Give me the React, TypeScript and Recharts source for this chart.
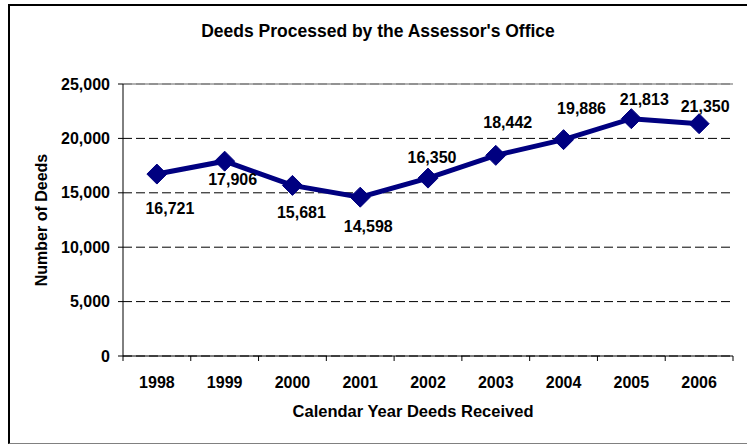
import React from "react";
import {
  LineChart,
  Line,
  XAxis,
  YAxis,
  CartesianGrid,
  ReferenceLine,
  LabelList,
} from "recharts";

const years = ["1998", "1999", "2000", "2001", "2002", "2003", "2004", "2005", "2006"];
const deeds = [16721, 17906, 15681, 14598, 16350, 18442, 19886, 21813, 21350];
const yTicks = [0, 5000, 10000, 15000, 20000, 25000];

// label placement relative to each point (layout only)
const labelDx = [13, 8, 9, 8, 4, 12, 18, 13, 6];
const labelDy = [34, 18, 27, 29, -21, -33, -32, -20, -18];

const data = years.map((year, i) => ({ year, deeds: deeds[i] }));

const W = 747;
const H = 445;
const M = { top: 84, right: 14, bottom: 59, left: 43 };
const Y_AXIS_W = 80;
const X_AXIS_H = 30;
const PLOT_W = W - M.left - M.right - Y_AXIS_W;
const PLOT_BOTTOM = H - M.bottom - X_AXIS_H;
const STEP = PLOT_W / years.length;
const NAVY = "#000080";
const FONT = "'Liberation Sans', Arial, sans-serif";
const FS = 16;

const fmt = (v: number) => v.toLocaleString("en-US");

function YearTick(props: any) {
  const { x, payload, index } = props;
  const last = index === years.length - 1;
  return (
    <g>
      <line x1={x - STEP / 2} x2={x - STEP / 2} y1={PLOT_BOTTOM} y2={PLOT_BOTTOM + 5} stroke="#000" />
      {last && (
        <line x1={x + STEP / 2} x2={x + STEP / 2} y1={PLOT_BOTTOM} y2={PLOT_BOTTOM + 5} stroke="#000" />
      )}
      <text
        x={x}
        y={PLOT_BOTTOM + 32}
        textAnchor="middle"
        fontFamily={FONT}
        fontWeight="bold"
        fontSize={FS}
        fill="#000"
      >
        {payload.value}
      </text>
    </g>
  );
}

function Diamond(props: any) {
  const { cx, cy } = props;
  if (cx == null || cy == null) return null;
  const r = 10;
  return (
    <polygon
      points={`${cx},${cy - r} ${cx + r},${cy} ${cx},${cy + r} ${cx - r},${cy}`}
      fill={NAVY}
      stroke={NAVY}
    />
  );
}

function ValueLabel(props: any) {
  const { x, y, value, index } = props;
  return (
    <text
      x={x + labelDx[index]}
      y={y + labelDy[index]}
      dy={6}
      textAnchor="middle"
      fontFamily={FONT}
      fontWeight="bold"
      fontSize={FS}
      fill="#000"
    >
      {fmt(value)}
    </text>
  );
}

export default function App() {
  return (
    <div style={{ position: "absolute", left: 0, top: 0, width: W, height: H, fontFamily: FONT, background: "#fff", overflow: "hidden" }}>
      <div
        style={{
          position: "absolute",
          left: 8,
          top: 4,
          width: W,
          height: 437,
          borderTop: "2px solid #000",
          borderLeft: "2px solid #000",
          borderBottom: "1px solid #808080",
        }}
      />
      <LineChart width={W} height={H} data={data} margin={M} style={{ position: "absolute", left: 0, top: 0 }}>
        <CartesianGrid vertical={false} stroke="#000" strokeDasharray="9 4" />
        <ReferenceLine y={25000} stroke="#999" strokeWidth={1.5} />
        <XAxis
          dataKey="year"
          height={X_AXIS_H}
          padding={{ left: STEP / 2, right: STEP / 2 }}
          tickLine={false}
          axisLine={{ stroke: "#000" }}
          tick={<YearTick />}
          interval={0}
        />
        <YAxis
          width={Y_AXIS_W}
          domain={[0, 25000]}
          ticks={yTicks}
          tickFormatter={fmt}
          tickSize={5}
          tickMargin={8}
          axisLine={{ stroke: "#000" }}
          tickLine={{ stroke: "#000" }}
          tick={{ fill: "#000", fontFamily: FONT, fontWeight: "bold", fontSize: FS }}
        />
        <YAxis
          yAxisId="r"
          orientation="right"
          width={0}
          domain={[0, 25000]}
          tick={false}
          tickLine={false}
          axisLine={{ stroke: "#999", strokeWidth: 2 }}
        />
        <Line
          dataKey="deeds"
          stroke={NAVY}
          strokeWidth={5}
          dot={<Diamond />}
          activeDot={false}
          isAnimationActive={false}
        >
          <LabelList dataKey="deeds" content={<ValueLabel />} />
        </Line>
      </LineChart>
      <div style={{ position: "absolute", left: 378, top: 31, transform: "translate(-50%, -50%)", whiteSpace: "nowrap", fontWeight: "bold", fontSize: 17.5 }}>
        Deeds Processed by the Assessor's Office
      </div>
      <div style={{ position: "absolute", left: 413, top: 411, transform: "translate(-50%, -50%)", whiteSpace: "nowrap", fontWeight: "bold", fontSize: 16.5 }}>
        Calendar Year Deeds Received
      </div>
      <div style={{ position: "absolute", left: 42, top: 220, transform: "translate(-50%, -50%) rotate(-90deg)", whiteSpace: "nowrap", fontWeight: "bold", fontSize: FS }}>
        Number of Deeds
      </div>
    </div>
  );
}
